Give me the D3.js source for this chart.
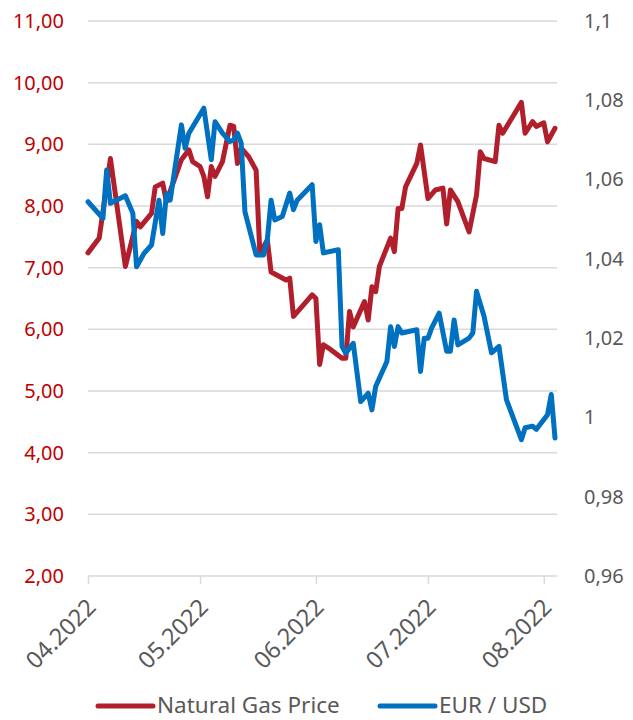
<!DOCTYPE html>
<html>
<head>
<meta charset="utf-8">
<script src="https://cdn.jsdelivr.net/npm/d3@7"></script>
<style>
  body { margin: 0; background: #fff; }
  text { font-family: "Noto Sans", sans-serif; }
</style>
</head>
<body>
<div id="chart"></div>
<script>
// Natural gas price (left axis)
var gasDates = ["2022-04-01","2022-04-04","2022-04-07","2022-04-11","2022-04-14","2022-04-15","2022-04-18","2022-04-19",
  "2022-04-21","2022-04-22","2022-04-26","2022-04-28","2022-04-29","2022-05-01","2022-05-02","2022-05-03","2022-05-04",
  "2022-05-05","2022-05-07","2022-05-09","2022-05-10","2022-05-11","2022-05-12","2022-05-14","2022-05-16","2022-05-17",
  "2022-05-19","2022-05-20","2022-05-24","2022-05-25","2022-05-26","2022-05-31","2022-06-01","2022-06-02","2022-06-03",
  "2022-06-05","2022-06-08","2022-06-09","2022-06-10","2022-06-11","2022-06-14","2022-06-15","2022-06-16","2022-06-17",
  "2022-06-18","2022-06-21","2022-06-22","2022-06-23","2022-06-24","2022-06-25","2022-06-28","2022-06-29","2022-07-01",
  "2022-07-03","2022-07-05","2022-07-06","2022-07-07","2022-07-09","2022-07-12","2022-07-14","2022-07-15","2022-07-16",
  "2022-07-19","2022-07-20","2022-07-21","2022-07-26","2022-07-27","2022-07-29","2022-07-30","2022-08-01","2022-08-02",
  "2022-08-04"];
var gasValues = [7.24,7.48,8.77,7.02,7.75,7.66,7.88,8.31,
  8.37,8.07,8.75,8.91,8.72,8.64,8.48,8.15,8.64,
  8.48,8.72,9.31,9.29,8.69,8.94,8.80,8.58,7.23,
  7.45,6.93,6.80,6.83,6.21,6.56,6.50,5.43,5.75,
  5.67,5.53,5.53,6.29,6.04,6.45,6.15,6.69,6.61,
  7.02,7.48,7.26,7.96,7.96,8.31,8.69,8.99,8.12,
  8.26,8.29,7.71,8.26,8.07,7.58,8.18,8.88,8.77,
  8.72,9.31,9.18,9.68,9.18,9.37,9.29,9.35,9.04,
  9.26];

// EUR / USD (right axis)
var eurDates = ["2022-04-01","2022-04-05","2022-04-06","2022-04-07","2022-04-11","2022-04-13","2022-04-14","2022-04-16",
  "2022-04-18","2022-04-20","2022-04-21","2022-04-22","2022-04-23","2022-04-26","2022-04-27","2022-04-28","2022-05-02",
  "2022-05-04","2022-05-05","2022-05-07","2022-05-09","2022-05-10","2022-05-11","2022-05-12","2022-05-13","2022-05-16",
  "2022-05-18","2022-05-19","2022-05-20","2022-05-21","2022-05-23","2022-05-25","2022-05-26","2022-05-27","2022-05-31",
  "2022-06-01","2022-06-02","2022-06-03","2022-06-07","2022-06-08","2022-06-09","2022-06-11","2022-06-13","2022-06-15",
  "2022-06-16","2022-06-17","2022-06-20","2022-06-21","2022-06-22","2022-06-23","2022-06-24","2022-06-28","2022-06-29",
  "2022-06-30","2022-07-01","2022-07-02","2022-07-04","2022-07-06","2022-07-07","2022-07-08","2022-07-09","2022-07-12",
  "2022-07-13","2022-07-14","2022-07-16","2022-07-18","2022-07-20","2022-07-22","2022-07-26","2022-07-27","2022-07-29",
  "2022-07-30","2022-08-02","2022-08-03","2022-08-04"];
var eurValues = [1.0544,1.0502,1.0624,1.0540,1.0559,1.0515,1.0380,1.0414,
  1.0435,1.0548,1.0464,1.0565,1.0548,1.0738,1.0679,1.0717,1.0780,
  1.0650,1.0746,1.0717,1.0696,1.0700,1.0717,1.0692,1.0519,1.0410,
  1.0410,1.0448,1.0548,1.0498,1.0507,1.0566,1.0524,1.0548,1.0587,
  1.0444,1.0486,1.0415,1.0423,1.0179,1.0162,1.0187,1.0040,1.0061,
  1.0019,1.0078,1.0141,1.0229,1.0179,1.0229,1.0213,1.0221,1.0116,
  1.0200,1.0200,1.0226,1.0263,1.0167,1.0167,1.0246,1.0183,1.0200,
  1.0213,1.0318,1.0255,1.0163,1.0179,1.0045,0.9944,0.9974,0.9978,
  0.9970,1.0007,1.0058,0.9948];

var leftTicks = [2, 3, 4, 5, 6, 7, 8, 9, 10, 11];
var rightTicks = [0.96, 0.98, 1.0, 1.02, 1.04, 1.06, 1.08, 1.1];
var monthTicks = ["2022-04-01", "2022-05-01", "2022-06-01", "2022-07-01", "2022-08-01"];
var seriesNames = ["Natural Gas Price", "EUR / USD"];

var parseDate = d3.timeParse("%Y-%m-%d");
var gasColor = "#B01F2B", eurColor = "#0070C0";

var width = 633, height = 720;
var plotLeft = 88, plotRight = 555, plotTop = 21, plotBottom = 576;

var svg = d3.select("#chart").append("svg")
    .attr("width", width)
    .attr("height", height);

var x = d3.scaleTime()
    .domain([parseDate("2022-04-01"), parseDate("2022-08-04")])
    .range([plotLeft, plotRight]);

var yL = d3.scaleLinear().domain([2, 11]).range([plotBottom, plotTop]);
var yR = d3.scaleLinear().domain([0.96, 1.1]).range([plotBottom, plotTop]);

// horizontal gridlines
svg.append("g")
  .selectAll("line")
  .data(leftTicks.slice(1))
  .enter().append("line")
    .attr("x1", plotLeft)
    .attr("x2", plotRight + 2)
    .attr("y1", function(d) { return yL(d); })
    .attr("y2", function(d) { return yL(d); })
    .style("stroke", "#D9D9D9")
    .style("stroke-width", 1.5);

// left axis
var yAxisL = d3.axisLeft(yL)
    .tickValues(leftTicks)
    .tickSize(0)
    .tickPadding(24)
    .tickFormat(function(d) { return d3.format(".2f")(d).replace(".", ","); });

var gL = svg.append("g")
    .attr("transform", "translate(" + plotLeft + ",0)")
    .call(yAxisL);
gL.select(".domain").remove();
gL.selectAll("text")
    .style("font-family", "'Noto Sans', sans-serif")
    .style("font-size", "20px")
    .style("fill", "#C00000");

// right axis
var yAxisR = d3.axisRight(yR)
    .tickValues(rightTicks)
    .tickSize(0)
    .tickPadding(27)
    .tickFormat(function(d) { return String(+d.toFixed(2)).replace(".", ","); });

var gR = svg.append("g")
    .attr("transform", "translate(" + (plotRight + 2) + ",0)")
    .call(yAxisR);
gR.select(".domain").remove();
gR.selectAll("text")
    .style("font-family", "'Noto Sans', sans-serif")
    .style("font-size", "20px")
    .style("fill", "#595959");

// x axis
var xAxis = d3.axisBottom(x)
    .tickValues(monthTicks.map(parseDate))
    .tickSize(8)
    .tickSizeOuter(0)
    .tickFormat(d3.timeFormat("%m.%Y"));

var gX = svg.append("g")
    .attr("transform", "translate(0," + plotBottom + ")")
    .call(xAxis);
gX.select(".domain")
    .attr("d", "M" + plotLeft + ",0H" + (plotRight + 2))
    .style("stroke", "#D9D9D9")
    .style("stroke-width", 1.5);
gX.selectAll(".tick line")
    .style("stroke", "#D9D9D9")
    .style("stroke-width", 1.5);
gX.selectAll("text")
    .style("font-family", "'Noto Sans', sans-serif")
    .style("font-size", "23.5px")
    .style("fill", "#595959")
    .style("text-anchor", "end")
    .attr("dy", "0.35em")
    .attr("y", 0)
    .attr("transform", "translate(3,27) rotate(-45)");

// lines
var gasData = gasDates.map(function(d, i) { return {date: parseDate(d), value: gasValues[i]}; });
var eurData = eurDates.map(function(d, i) { return {date: parseDate(d), value: eurValues[i]}; });

var gasLine = d3.line()
    .x(function(d) { return x(d.date); })
    .y(function(d) { return yL(d.value); });

var eurLine = d3.line()
    .x(function(d) { return x(d.date); })
    .y(function(d) { return yR(d.value); });

svg.append("path")
    .datum(gasData)
    .attr("d", gasLine)
    .style("fill", "none")
    .style("stroke", gasColor)
    .style("stroke-width", 5)
    .style("stroke-linejoin", "round")
    .style("stroke-linecap", "round");

svg.append("path")
    .datum(eurData)
    .attr("d", eurLine)
    .style("fill", "none")
    .style("stroke", eurColor)
    .style("stroke-width", 5)
    .style("stroke-linejoin", "round")
    .style("stroke-linecap", "round");

// legend
var legendX = [98, 380];
var legend = svg.append("g")
  .selectAll("g")
  .data(seriesNames)
  .enter().append("g")
    .attr("transform", function(d, i) { return "translate(" + legendX[i] + ",706)"; });

legend.append("line")
    .attr("x1", 0)
    .attr("x2", 55)
    .style("stroke", function(d, i) { return i === 0 ? gasColor : eurColor; })
    .style("stroke-width", 5)
    .style("stroke-linecap", "round");

legend.append("text")
    .attr("x", 59)
    .attr("dy", "0.3em")
    .style("font-size", "22.5px")
    .style("fill", "#595959")
    .text(function(d) { return d; });
</script>
</body>
</html>
